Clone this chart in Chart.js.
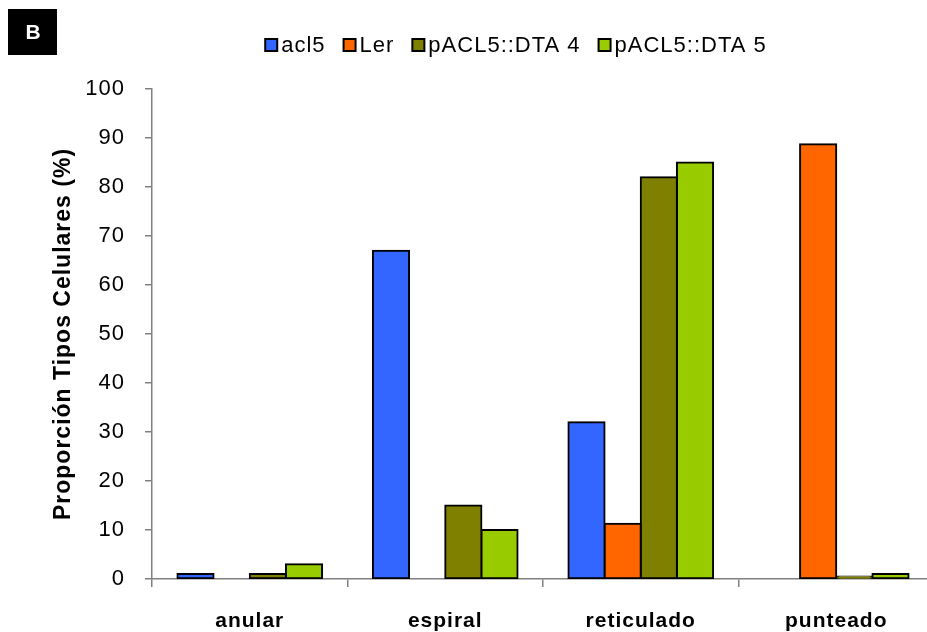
<!DOCTYPE html>
<html>
<head>
<meta charset="utf-8">
<script src="https://cdn.jsdelivr.net/npm/chart.js@4/dist/chart.umd.min.js"></script>
<style>
  html, body { margin: 0; padding: 0; background: #fff; }
  canvas { display: block; }
</style>
</head>
<body>
<canvas id="c" width="927" height="632"></canvas>
<script>
// Cell-type proportions per xylem wall pattern
const categories = ['anular', 'espiral', 'reticulado', 'punteado'];
const seriesNames = ['acl5', 'Ler', 'pACL5::DTA 4', 'pACL5::DTA 5'];
const acl5 = [1, 67, 32, 0];
const ler = [0, 0, 11.3, 88.7];
const dta4 = [1, 15, 82, 0.5];
const dta5 = [3, 10, 85, 1];
const yTicks = [0, 10, 20, 30, 40, 50, 60, 70, 80, 90, 100];
const yTitle = 'Proporción Tipos Celulares (%)';
const panelLetter = 'B';

const seriesColors = ['#3366FF', '#FF6600', '#808000', '#99CC00'];
const FONT = '"Liberation Sans", Arial, sans-serif';

// Slightly open letter spacing for all canvas text
const spacing = {
  id: 'spacing',
  beforeLayout(chart) { chart.ctx.letterSpacing = '1px'; },
  beforeDraw(chart) { chart.ctx.letterSpacing = '1px'; }
};

// The category axis runs a little past the right edge of the canvas
const widenX = {
  id: 'widenX',
  afterLayout(chart) {
    const x = chart.scales.x;
    const right = x.left + 782;
    x.right = right;
    x.width = right - x.left;
    x.configure();
    chart.chartArea.right = right;
    chart.chartArea.width = right - chart.chartArea.left;
  }
};

// Panel letter and compact legend above the plot
const overlay = {
  id: 'overlay',
  afterDraw(chart) {
    const ctx = chart.ctx;
    ctx.save();
    ctx.fillStyle = '#000';
    ctx.fillRect(8, 9, 49, 46);
    ctx.fillStyle = '#fff';
    ctx.font = 'bold 21px ' + FONT;
    ctx.letterSpacing = '0px';
    ctx.textAlign = 'center';
    ctx.textBaseline = 'middle';
    ctx.fillText(panelLetter, 33, 33);

    ctx.font = '22px ' + FONT;
    ctx.letterSpacing = '1px';
    ctx.textAlign = 'left';
    const box = 12, gapText = 4, gapItem = 18;
    const legendCX = 516, legendCY = 45;
    const items = chart.data.datasets.map(ds => ({
      label: ds.label, color: ds.backgroundColor, w: ctx.measureText(ds.label).width
    }));
    const total = items.reduce((s, it) => s + box + gapText + it.w, 0) + gapItem * (items.length - 1);
    let x = legendCX - total / 2;
    items.forEach(it => {
      ctx.fillStyle = it.color;
      ctx.fillRect(x, legendCY - box / 2, box, box);
      ctx.strokeStyle = '#000';
      ctx.lineWidth = 2;
      ctx.strokeRect(x, legendCY - box / 2, box, box);
      ctx.fillStyle = '#000';
      ctx.fillText(it.label, x + box + gapText, legendCY + 1);
      x += box + gapText + it.w + gapItem;
    });
    ctx.restore();
  }
};

const seriesData = [acl5, ler, dta4, dta5];

new Chart(document.getElementById('c'), {
  type: 'bar',
  data: {
    labels: categories,
    datasets: seriesNames.map((name, i) => ({
      label: name,
      data: seriesData[i],
      backgroundColor: seriesColors[i]
    }))
  },
  options: {
    responsive: false,
    animation: false,
    devicePixelRatio: 1,
    layout: { padding: { top: 89, left: 0, right: 0, bottom: 0 } },
    plugins: { legend: { display: false }, tooltip: { enabled: false } },
    datasets: {
      bar: {
        categoryPercentage: 0.74,
        barPercentage: 1,
        borderColor: '#000',
        borderWidth: c => (c.raw ? 2 : 0),
        borderSkipped: false,
        // centre the outline on the bar edge; empty bars stay invisible
        inflateAmount: c => (c.raw ? 1 : 0)
      }
    },
    scales: {
      x: {
        grid: { offset: true, drawOnChartArea: false, drawTicks: true, tickLength: 8, color: '#808080', lineWidth: 1.5 },
        border: { display: true, color: '#808080', width: 1.5 },
        ticks: { color: '#000', font: { family: FONT, size: 21, weight: 'bold' }, padding: 22 },
        afterFit(s) { s.height = 53; }
      },
      y: {
        min: 0,
        max: 100,
        afterBuildTicks(s) { s.ticks = yTicks.map(v => ({ value: v })); },
        ticks: { color: '#000', font: { family: FONT, size: 22 }, padding: 20 },
        grid: { drawOnChartArea: false, drawTicks: true, tickLength: 7, color: '#808080', lineWidth: 1.5 },
        border: { display: true, color: '#808080', width: 1.5 },
        title: {
          display: true, text: yTitle, color: '#000',
          font: { family: FONT, size: 23, weight: 'bold' },
          padding: { top: 50, bottom: 0 }
        },
        afterFit(s) { s.width = 152; }
      }
    }
  },
  plugins: [spacing, widenX, overlay]
});
</script>
</body>
</html>
